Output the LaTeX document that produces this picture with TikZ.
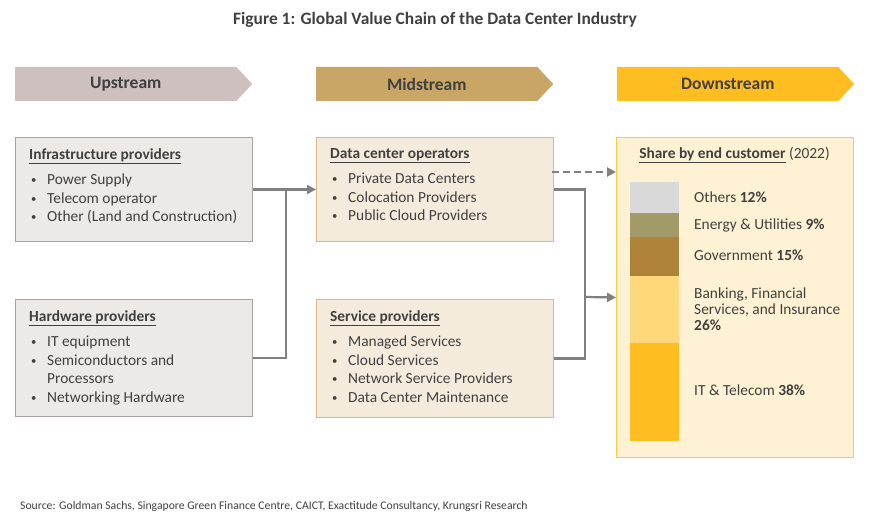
\documentclass[tikz,border=0pt]{standalone}
\usepackage{fontspec}
\setmainfont{Carlito}
\usepackage{tikz}
\usetikzlibrary{arrows.meta,shapes.symbols}
\definecolor{txtgray}{HTML}{404040}
\definecolor{linegray}{HTML}{808080}
\definecolor{upfill}{HTML}{CEC0BE}
\definecolor{midfill}{HTML}{C9A566}
\definecolor{downfill}{HTML}{FEBE22}
\definecolor{upbg}{HTML}{EDE9E7}
\definecolor{upline}{HTML}{A7A2A0}
\definecolor{midbg}{HTML}{F5EBDD}
\definecolor{midline}{HTML}{D9B889}
\definecolor{downbg}{HTML}{FFF1D3}
\definecolor{downline}{HTML}{FDC748}
\definecolor{othersc}{HTML}{D9D9D9}
\definecolor{energyc}{HTML}{A39A6A}
\definecolor{govc}{HTML}{AF8239}
\definecolor{bankc}{HTML}{FED87A}
\definecolor{itc}{HTML}{FEBE22}
\newcommand{\bul}{\makebox[18pt][l]{\hspace{2pt}\raisebox{1pt}{\scalebox{0.7}{\textbullet}}}}
\tikzset{
    stage/.style = {
        signal,
        signal to=east,
        signal pointer angle=94,
        minimum width=237pt,
        minimum height=34pt,
        inner sep=0pt,
        anchor=west,
        text=txtgray,
        font=\fontsize{17.5}{20}\selectfont\bfseries
    },
    groupbox/.style = {
        rectangle,
        anchor=north west,
        minimum width=237pt,
        line width=1pt,
        inner sep=0pt
    },
    boxtext/.style = {
        anchor=north west,
        align=left,
        inner sep=0pt,
        text=txtgray,
        font=\fontsize{15.4}{18.6}\selectfont
    },
    conn/.style = {
        draw=linegray,
        line width=2.2pt
    },
    tip/.style = {
        -{Triangle[length=9pt,width=9pt]}
    },
    barseg/.style = {
        fill=#1,
        draw=none
    },
    barlabel/.style = {
        anchor=west,
        align=left,
        inner sep=0pt,
        text=txtgray,
        font=\fontsize{15.4}{16.2}\selectfont
    }
}
\begin{document}
\begin{tikzpicture}[x=1pt,y=-1pt]
    \useasboundingbox (0,0) rectangle (870,526);
    % title
    \node[text=txtgray, font=\fontsize{17.4}{20}\selectfont\bfseries] (title) at (435,20)
        {Figure 1: Global Value Chain of the Data Center Industry};
    % stages
    \node[stage, fill=upfill] (up) at (15,84) {\raisebox{-1.5pt}{Upstream}};
    \node[stage, fill=midfill] (mid) at (316,84) {\raisebox{-1.5pt}{Midstream}};
    \node[stage, fill=downfill] (down) at (617,84) {\raisebox{-1.5pt}{Downstream}};
    % upstream boxes
    \node[groupbox, fill=upbg, draw=upline, minimum height=104pt] (infra) at (15,137) {};
    \node[boxtext] (infratxt) at (29,148) {%
        \underline{\textbf{Infrastructure providers}}\\[7pt]
        \bul Power Supply\\
        \bul Telecom operator\\
        \bul Other (Land and Construction)};
    \node[groupbox, fill=upbg, draw=upline, minimum height=117pt] (hw) at (15,299) {};
    \node[boxtext] (hwtxt) at (29,310) {%
        \underline{\textbf{Hardware providers}}\\[7pt]
        \bul IT equipment\\
        \bul Semiconductors and\\
        \hspace*{18pt}Processors\\
        \bul Networking Hardware};
    % midstream boxes
    \node[groupbox, fill=midbg, draw=midline, minimum height=104pt] (dco) at (316,137) {};
    \node[boxtext] (dcotxt) at (330,148) {%
        \underline{\textbf{Data center operators}}\\[7pt]
        \bul Private Data Centers\\
        \bul Colocation Providers\\
        \bul Public Cloud Providers};
    \node[groupbox, fill=midbg, draw=midline, minimum height=118pt] (srv) at (316,299) {};
    \node[boxtext] (srvtxt) at (330,310) {%
        \underline{\textbf{Service providers}}\\[7pt]
        \bul Managed Services\\
        \bul Cloud Services\\
        \bul Network Service Providers\\
        \bul Data Center Maintenance};
    % downstream box
    \node[groupbox, fill=downbg, draw=downline, minimum height=320pt] (share) at (616,137) {};
    \node[text=txtgray, font=\fontsize{15.4}{18}\selectfont, inner sep=0pt] (sharetitle) at (734.5,155)
        {\underline{\textbf{Share by end customer}} (2022)};
    % stacked bar
    \fill[barseg=othersc] (630,182) rectangle (679,213);
    \fill[barseg=energyc] (630,213) rectangle (679,237);
    \fill[barseg=govc] (630,237) rectangle (679,276);
    \fill[barseg=bankc] (630,276) rectangle (679,343);
    \fill[barseg=itc] (630,343) rectangle (679,441);
    \node[barlabel] (others) at (694,197) {Others \textbf{12\%}};
    \node[barlabel] (energy) at (694,225) {Energy \& Utilities \textbf{9\%}};
    \node[barlabel] (gov) at (694,255) {Government \textbf{15\%}};
    \node[barlabel] (bank) at (694,309) {Banking, Financial\\Services, and Insurance\\\textbf{26\%}};
    \node[barlabel] (it) at (694,390) {IT \& Telecom \textbf{38\%}};
    % connectors
    \coordinate (j1) at (286,189);
    \coordinate (j2) at (585,297);
    \coordinate (dash) at (552,172);
    \draw[conn, tip] (infra.east) -- (dco.west);
    \draw[conn] (hw.east) -| (j1);
    \draw[conn] (dco.east) -| (j2);
    \draw[conn] (srv.east) -| (j2);
    \draw[conn, tip] (j2) -- (share.west);
    \draw[conn, tip, dashed, dash pattern=on 7pt off 4pt] (dash) -- (dash -| share.west);
    % source
    \node[anchor=west, inner sep=0pt, text=txtgray, font=\fontsize{11.7}{14}\selectfont] (source) at (20,506)
        {Source: Goldman Sachs, Singapore Green Finance Centre, CAICT, Exactitude Consultancy, Krungsri Research};
\end{tikzpicture}
\end{document}
